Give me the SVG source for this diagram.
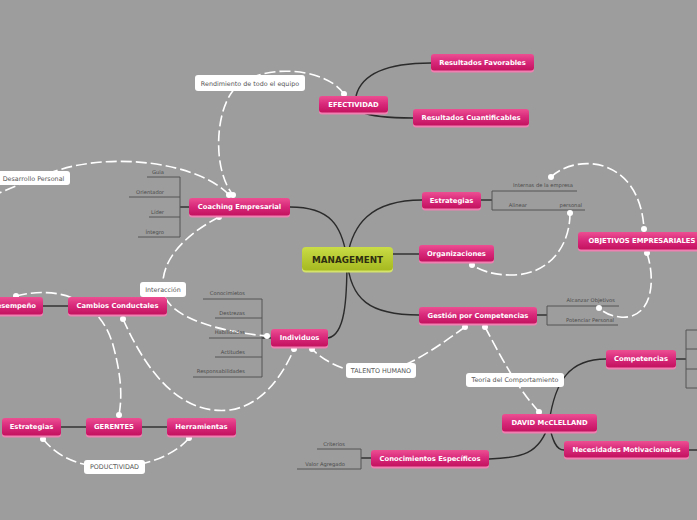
<svg xmlns="http://www.w3.org/2000/svg" width="697" height="520" viewBox="0 0 697 520">
<defs>
<linearGradient id="pink" x1="0" y1="0" x2="0" y2="1">
<stop offset="0" stop-color="#ec4f92"/>
<stop offset="0.5" stop-color="#d8287a"/>
<stop offset="1" stop-color="#c3125e"/>
</linearGradient>
<linearGradient id="lime" x1="0" y1="0" x2="0" y2="1">
<stop offset="0" stop-color="#cadc46"/>
<stop offset="1" stop-color="#a6b91f"/>
</linearGradient>
<style>
.bg{fill:#9d9d9d}
.nb{fill:#f180b2}
.n{fill:url(#pink)}
.nt{font-family:"DejaVu Sans",Verdana,sans-serif;font-weight:bold;font-size:6.8px;fill:#fff;text-anchor:middle}
.lb{fill:#fff}
.lt{font-family:"DejaVu Sans",Verdana,sans-serif;font-size:6.4px;fill:#555;text-anchor:middle}
.st{font-family:"DejaVu Sans",Verdana,sans-serif;font-size:5.2px;fill:#4a4a4a;text-anchor:end}
.c{fill:none;stroke:#2b2b2b;stroke-width:1.4}
.br{fill:none;stroke:#555;stroke-width:1}
.d{fill:none;stroke:#fff;stroke-width:1.6;stroke-dasharray:11 4}
.dot{fill:#fff}
</style>
</defs>
<rect class="bg" x="0" y="0" width="697" height="520"/>

<g id="connectors">
<path class="c" d="M290,207 C330,207 342,225 347,259"/>
<path class="c" d="M422,200 C370,200 352,225 347,259"/>
<path class="c" d="M393,254 L419,254"/>
<path class="c" d="M419,315 C370,315 350,300 347,259"/>
<path class="c" d="M328,338 C345,335 347,300 347,259"/>
<path class="c" d="M356,96 C362,72 390,63 431,63"/>
<path class="c" d="M362,112 C372,117 390,118 413,118"/>
<path class="c" d="M43,306 L68,306"/>
<path class="c" d="M61,427 L86,427"/>
<path class="c" d="M142,427 L167,427"/>
<path class="c" d="M606,359 C570,359 555,380 549,423"/>
<path class="c" d="M549,423 C552,440 556,450 564,450"/>
<path class="c" d="M549,423 C540,455 520,458 489,459"/>
<path class="c" d="M676,359 L686,359"/>
<path class="c" d="M689,450 L697,450"/>
<path class="c" d="M180,207 L189,207"/>
<path class="c" d="M262,338 L271,338"/>
<path class="c" d="M481,200 L492,200"/>
<path class="c" d="M537,315 L547,315"/>
<path class="c" d="M361,458 L371,458"/>

<!-- brackets -->
<path class="br" d="M147,177 L180,177 M129,197 L180,197 M149,217 L180,217 M138,237 L180,237 M180,177 L180,237"/>
<path class="br" d="M203,299 L262,299 M215,318 L262,318 M209,338 L262,338 M215,357 L262,357 M193,377 L262,377 M262,299 L262,377"/>
<path class="br" d="M492,191 L577,191 M492,210 L585,210 M492,191 L492,210"/>
<path class="br" d="M547,306 L619,306 M547,325 L618,325 M547,306 L547,325"/>
<path class="br" d="M686,330 L697,330 M686,349 L697,349 M686,369 L697,369 M686,388 L697,388 M686,330 L686,388"/>
<path class="br" d="M317,449 L361,449 M297,469 L361,469 M361,449 L361,469"/>

<!-- dashed relationships -->
<path class="d" d="M344,94 C325,66 255,62 232,92 C215,115 213,170 233,195"/>
<path class="d" d="M229,195 C200,163 110,150 50,173 C30,180 10,188 -5,195"/>
<path class="d" d="M219,217 C185,235 160,260 163,290 C166,320 230,333 267,336"/>
<path class="d" d="M16,296 C60,285 100,300 113,345 C122,378 122,398 119,415"/>
<path class="d" d="M123,319 C150,380 185,415 230,410 C265,405 285,370 294,349"/>
<path class="d" d="M43,439 C60,460 85,468 115,467 C145,467 175,455 189,438"/>
<path class="d" d="M570,213 C570,250 545,276 510,275 C492,275 480,270 472,265"/>
<path class="d" d="M551,177 C578,152 640,158 644,229"/>
<path class="d" d="M647,253 C657,285 650,320 620,317 C610,316 603,312 599,308"/>
<path class="d" d="M465,327 C440,345 400,375 370,373 C345,372 325,362 312,349"/>
<path class="d" d="M485,327 C500,355 515,385 539,412"/>

<circle class="dot" cx="344" cy="94" r="3"/>
<circle class="dot" cx="233" cy="195" r="3"/>
<circle class="dot" cx="229" cy="195" r="3"/>
<circle class="dot" cx="219" cy="217" r="3"/>
<circle class="dot" cx="267" cy="336" r="3"/>
<circle class="dot" cx="16" cy="296" r="3"/>
<circle class="dot" cx="119" cy="415" r="3"/>
<circle class="dot" cx="123" cy="319" r="3"/>
<circle class="dot" cx="294" cy="349" r="3"/>
<circle class="dot" cx="312" cy="349" r="3"/>
<circle class="dot" cx="43" cy="439" r="3"/>
<circle class="dot" cx="189" cy="438" r="3"/>
<circle class="dot" cx="570" cy="213" r="3"/>
<circle class="dot" cx="472" cy="265" r="3"/>
<circle class="dot" cx="551" cy="177" r="3"/>
<circle class="dot" cx="644" cy="229" r="3"/>
<circle class="dot" cx="647" cy="253" r="3"/>
<circle class="dot" cx="599" cy="308" r="3"/>
<circle class="dot" cx="465" cy="327" r="3"/>
<circle class="dot" cx="485" cy="327" r="3"/>
<circle class="dot" cx="539" cy="412" r="3"/>
</g>

<g id="sublabels">
<text class="st" x="164" y="174">Guia</text>
<text class="st" x="164" y="194">Orientador</text>
<text class="st" x="164" y="214">Líder</text>
<text class="st" x="164" y="234">Íntegro</text>
<text class="st" x="245" y="295">Conocimietos</text>
<text class="st" x="245" y="315">Destrezas</text>
<text class="st" x="245" y="334">Habilidades</text>
<text class="st" x="245" y="354">Actitudes</text>
<text class="st" x="245" y="373">Responsabilidades</text>
<text class="st" x="573" y="187">Internas de la empresa</text>
<text class="st" x="582" y="207"><tspan x="527">Alinear</tspan><tspan x="582">personal</tspan></text>
<text class="st" x="615" y="302">Alcanzar Objetivos</text>
<text class="st" x="614" y="322">Potenciar Personal</text>
<text class="st" x="345" y="446">Criterios</text>
<text class="st" x="345" y="466">Valor Agregado</text>
</g>

<g id="lbl-rendimiento"><rect class="lb" x="195" y="75" width="110" height="16" rx="3"/><text class="lt" x="250" y="85.5">Rendimiento de todo el equipo</text></g>
<g id="lbl-desarrollo"><rect class="lb" x="-3" y="171" width="73" height="14" rx="3"/><text class="lt" x="33.5" y="180.5">Desarrollo Personal</text></g>
<g id="lbl-interaccion"><rect class="lb" x="140" y="282" width="46" height="15" rx="3"/><text class="lt" x="163" y="291.7">Interacción</text></g>
<g id="lbl-talento"><rect class="lb" x="346" y="363" width="70" height="15" rx="3"/><text class="lt" x="381" y="372.7">TALENTO HUMANO</text></g>
<g id="lbl-teoria"><rect class="lb" x="466" y="373" width="98" height="14" rx="3"/><text class="lt" x="515" y="382.3">Teoría del Comportamiento</text></g>
<g id="lbl-productividad"><rect class="lb" x="84" y="460" width="61" height="14" rx="3"/><text class="lt" x="114.5" y="469.3">PODUCTIVIDAD</text></g>

<g id="management"><rect fill="#d6e36a" x="302" y="248.5" width="91" height="24" rx="4"/><rect fill="url(#lime)" x="302" y="247" width="91" height="23.5" rx="4"/><text x="347.5" y="262.5" font-family="'DejaVu Sans',Verdana,sans-serif" font-weight="bold" font-size="8.8px" fill="#2e2e10" text-anchor="middle">MANAGEMENT</text></g>

<g id="efectividad"><rect class="nb" x="319" y="97.5" width="69" height="17" rx="3"/><rect class="n" x="319" y="96" width="69" height="16.5" rx="3"/><text class="nt" x="353.5" y="106.8">EFECTIVIDAD</text></g>
<g id="res-favorables"><rect class="nb" x="431" y="55.5" width="103" height="17" rx="3"/><rect class="n" x="431" y="54" width="103" height="16.5" rx="3"/><text class="nt" x="482.5" y="64.8">Resultados Favorables</text></g>
<g id="res-cuantificables"><rect class="nb" x="413" y="110.5" width="116" height="17" rx="3"/><rect class="n" x="413" y="109" width="116" height="16.5" rx="3"/><text class="nt" x="471" y="119.8">Resultados Cuantificables</text></g>
<g id="coaching"><rect class="nb" x="189" y="199.5" width="101" height="18" rx="3"/><rect class="n" x="189" y="198" width="101" height="17.5" rx="3"/><text class="nt" x="239.5" y="209.3">Coaching Empresarial</text></g>
<g id="desempeno"><rect class="nb" x="-16" y="298.5" width="59" height="18" rx="3"/><rect class="n" x="-16" y="297" width="59" height="17.5" rx="3"/><text class="nt" x="13.5" y="308.3">Desempeño</text></g>
<g id="cambios"><rect class="nb" x="68" y="298.5" width="99" height="18" rx="3"/><rect class="n" x="68" y="297" width="99" height="17.5" rx="3"/><text class="nt" x="117.5" y="308.3">Cambios Conductales</text></g>
<g id="individuos"><rect class="nb" x="271" y="330.5" width="57" height="18" rx="3"/><rect class="n" x="271" y="329" width="57" height="17.5" rx="3"/><text class="nt" x="299.5" y="340.3">Individuos</text></g>
<g id="estrategias-izq"><rect class="nb" x="2" y="419.5" width="59" height="18" rx="3"/><rect class="n" x="2" y="418" width="59" height="17.5" rx="3"/><text class="nt" x="31.5" y="429.3">Estrategias</text></g>
<g id="gerentes"><rect class="nb" x="86" y="419.5" width="56" height="18" rx="3"/><rect class="n" x="86" y="418" width="56" height="17.5" rx="3"/><text class="nt" x="114" y="429.3">GERENTES</text></g>
<g id="herramientas"><rect class="nb" x="167" y="419.5" width="69" height="18" rx="3"/><rect class="n" x="167" y="418" width="69" height="17.5" rx="3"/><text class="nt" x="201.5" y="429.3">Herramientas</text></g>
<g id="estrategias-der"><rect class="nb" x="422" y="193.5" width="59" height="17" rx="3"/><rect class="n" x="422" y="192" width="59" height="16.5" rx="3"/><text class="nt" x="451.5" y="202.8">Estrategias</text></g>
<g id="organizaciones"><rect class="nb" x="419" y="246.5" width="75" height="17" rx="3"/><rect class="n" x="419" y="245" width="75" height="16.5" rx="3"/><text class="nt" x="456.5" y="255.8">Organizaciones</text></g>
<g id="gestion"><rect class="nb" x="419" y="308.5" width="118" height="17" rx="3"/><rect class="n" x="419" y="307" width="118" height="16.5" rx="3"/><text class="nt" x="478" y="317.8">Gestión por Competencias</text></g>
<g id="objetivos"><rect class="nb" x="578" y="233.5" width="128" height="18" rx="3"/><rect class="n" x="578" y="232" width="128" height="17.5" rx="3"/><text class="nt" x="642" y="243.3">OBJETIVOS EMPRESARIALES</text></g>
<g id="competencias"><rect class="nb" x="606" y="351.5" width="70" height="18" rx="3"/><rect class="n" x="606" y="350" width="70" height="17.5" rx="3"/><text class="nt" x="641" y="361.3">Competencias</text></g>
<g id="mcclelland"><rect class="nb" x="502" y="415.5" width="95" height="18" rx="3"/><rect class="n" x="502" y="414" width="95" height="17.5" rx="3"/><text class="nt" x="549.5" y="425.3">DAVID McCLELLAND</text></g>
<g id="necesidades"><rect class="nb" x="564" y="442.5" width="125" height="17" rx="3"/><rect class="n" x="564" y="441" width="125" height="16.5" rx="3"/><text class="nt" x="626.5" y="451.8">Necesidades Motivacionales</text></g>
<g id="conocimientos"><rect class="nb" x="371" y="451.5" width="118" height="17" rx="3"/><rect class="n" x="371" y="450" width="118" height="16.5" rx="3"/><text class="nt" x="430" y="460.8">Conocimientos Específicos</text></g>
</svg>
